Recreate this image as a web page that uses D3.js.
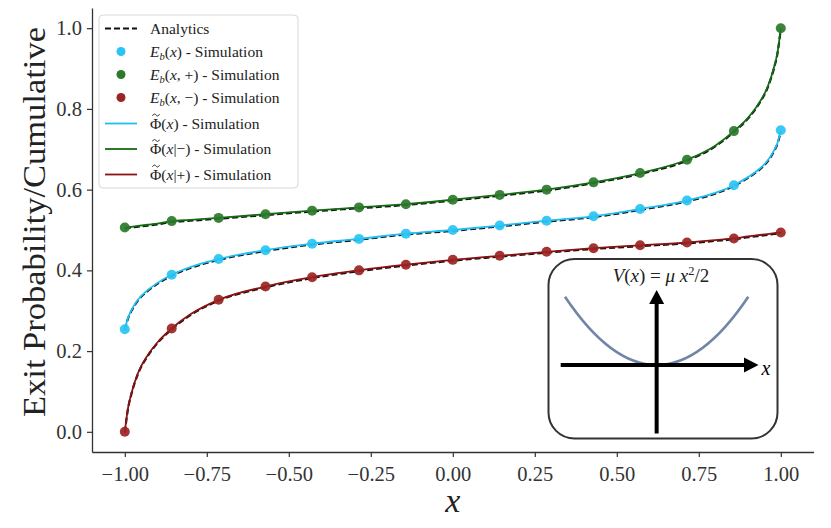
<!DOCTYPE html>
<html>
<head>
<meta charset="utf-8">
<script src="https://cdn.jsdelivr.net/npm/d3@7"></script>
<style>
  body { margin: 0; background: #fff; }
  svg { font-family: "Liberation Serif", "DejaVu Serif", serif; }
</style>
</head>
<body>
<div id="chart"></div>
<script>
// simulation points (15 equally spaced x)
const xSim = [-1, -0.857, -0.714, -0.571, -0.429, -0.286, -0.143, 0, 0.143, 0.286, 0.429, 0.571, 0.714, 0.857, 1];
const simBlue  = [0.254, 0.389, 0.428, 0.450, 0.466, 0.478, 0.491, 0.500, 0.511, 0.523, 0.534, 0.552, 0.573, 0.611, 0.747];
const simGreen = [0.506, 0.522, 0.530, 0.539, 0.548, 0.556, 0.564, 0.575, 0.587, 0.600, 0.618, 0.641, 0.674, 0.745, 1.0];
const simRed   = [0.0, 0.256, 0.327, 0.360, 0.383, 0.400, 0.414, 0.426, 0.436, 0.446, 0.455, 0.462, 0.469, 0.479, 0.494];

// curves (denser near the ends)
const xCurve = [-1, -0.99, -0.98, -0.96, -0.93, -0.9, -0.857, -0.8, -0.714, -0.571, -0.429, -0.286, -0.143, 0,
                0.143, 0.286, 0.429, 0.571, 0.714, 0.8, 0.857, 0.9, 0.93, 0.96, 0.98, 0.99, 1];
const curveBlue  = [0.254, 0.283, 0.301, 0.327, 0.351, 0.369, 0.389, 0.408, 0.428, 0.450, 0.466, 0.478, 0.491, 0.500,
                    0.511, 0.523, 0.534, 0.552, 0.573, 0.592, 0.611, 0.631, 0.648, 0.672, 0.698, 0.716, 0.747];
const curveGreen = [0.506, 0.507, 0.508, 0.510, 0.513, 0.516, 0.522, 0.525, 0.530, 0.539, 0.548, 0.556, 0.564, 0.575,
                    0.587, 0.600, 0.618, 0.641, 0.674, 0.709, 0.745, 0.778, 0.810, 0.855, 0.905, 0.940, 1.0];
const curveRed   = [0.0, 0.060, 0.095, 0.145, 0.190, 0.222, 0.256, 0.291, 0.327, 0.360, 0.383, 0.400, 0.414, 0.426,
                    0.436, 0.446, 0.455, 0.462, 0.469, 0.475, 0.479, 0.484, 0.487, 0.490, 0.492, 0.493, 0.494];

const xTicks = [-1, -0.75, -0.5, -0.25, 0, 0.25, 0.5, 0.75, 1];
const yTicks = [0, 0.2, 0.4, 0.6, 0.8, 1.0];

const W = 831, H = 528;
const svg = d3.select("#chart").append("svg").attr("width", W).attr("height", H);

const x = d3.scaleLinear().domain([-1.1, 1.1]).range([92, 813.6]);
const y = d3.scaleLinear().domain([-0.05, 1.05]).range([452, 8]);

const colBlue = "#29c4f4", colGreen = "#2b7a2b", colRed = "#9c2424";
const lineBlue = "#1fbff2", lineGreen = "#146b14", lineRed = "#8a1212";

// axes
const gx = svg.append("g").attr("transform", `translate(0,452)`)
  .call(d3.axisBottom(x).tickValues(xTicks).tickFormat(d3.format(".2f")).tickSize(5).tickSizeOuter(0));
const gy = svg.append("g").attr("transform", `translate(92,0)`)
  .call(d3.axisLeft(y).tickValues(yTicks).tickFormat(d3.format(".1f")).tickSize(5).tickSizeOuter(0));
[gx, gy].forEach(g => {
  g.select(".domain").attr("stroke", "#333").attr("stroke-width", 1.3);
  g.selectAll(".tick line").attr("stroke", "#333").attr("stroke-width", 1.2);
  g.selectAll(".tick text").attr("font-family", "Liberation Serif, serif").attr("font-size", 20.5).attr("fill", "#333");
});
gx.selectAll(".tick text").attr("dy", "1.0em");
gy.selectAll(".tick text").attr("dx", "-0.1em");

svg.append("text")
  .attr("transform", "translate(45,222) rotate(-90)")
  .attr("text-anchor", "middle")
  .attr("font-size", 31)
  .attr("fill", "#222")
  .attr("textLength", 390)
  .attr("lengthAdjust", "spacingAndGlyphs")
  .text("Exit Probability/Cumulative");

svg.append("text")
  .attr("x", x(0)).attr("y", 512)
  .attr("text-anchor", "middle")
  .attr("font-size", 34)
  .attr("font-style", "italic")
  .attr("fill", "#222")
  .text("x");

// curves
const line = d3.line().x(d => x(d[0])).y(d => y(d[1])).curve(d3.curveMonotoneX);
const curves = [
  { vals: curveGreen, col: lineGreen },
  { vals: curveBlue, col: lineBlue },
  { vals: curveRed, col: lineRed }
];
curves.forEach(c => {
  const pts = xCurve.map((v, i) => [v, c.vals[i]]);
  svg.append("path").attr("d", line(pts)).attr("fill", "none")
    .attr("stroke", "#111").attr("stroke-width", 2.2).attr("stroke-dasharray", "6 3")
    .attr("transform", "translate(0,0.8)");
  svg.append("path").attr("d", line(pts)).attr("fill", "none")
    .attr("stroke", c.col).attr("stroke-width", 1.8);
});

// simulation dots
const dots = [
  { vals: simBlue, col: colBlue },
  { vals: simGreen, col: colGreen },
  { vals: simRed, col: colRed }
];
dots.forEach(s => {
  svg.append("g").selectAll("circle")
    .data(xSim.map((v, i) => [v, s.vals[i]]))
    .join("circle")
    .attr("cx", d => x(d[0])).attr("cy", d => y(d[1]))
    .attr("r", 5).attr("fill", s.col).attr("fill-opacity", 0.92);
});

// legend
const lg = svg.append("g");
lg.append("rect").attr("x", 99).attr("y", 15).attr("width", 199).attr("height", 173)
  .attr("rx", 4).attr("fill", "#fff").attr("fill-opacity", 0.85)
  .attr("stroke", "#d8d8d8").attr("stroke-width", 1);

const legendRows = [
  { y: 28.5, kind: "dash", col: "#111", label: "analytics" },
  { y: 51.5, kind: "dot", col: colBlue, label: "Eb", arg: "" },
  { y: 74.5, kind: "dot", col: colGreen, label: "Eb", arg: ", +" },
  { y: 97.5, kind: "dot", col: colRed, label: "Eb", arg: ", −" },
  { y: 123.5, kind: "line", col: lineBlue, label: "Phi", arg: "" },
  { y: 149, kind: "line", col: lineGreen, label: "Phi", arg: "|−" },
  { y: 174.5, kind: "line", col: lineRed, label: "Phi", arg: "|+" }
];
const fs = 15.5;
legendRows.forEach(r => {
  if (r.kind === "dash") {
    lg.append("line").attr("x1", 105).attr("x2", 137).attr("y1", r.y).attr("y2", r.y)
      .attr("stroke", r.col).attr("stroke-width", 2).attr("stroke-dasharray", "6 3");
  } else if (r.kind === "dot") {
    lg.append("circle").attr("cx", 121).attr("cy", r.y).attr("r", 4.5).attr("fill", r.col);
  } else {
    lg.append("line").attr("x1", 105).attr("x2", 137).attr("y1", r.y).attr("y2", r.y)
      .attr("stroke", r.col).attr("stroke-width", 1.8);
  }
  const t = lg.append("text").attr("x", 150).attr("y", r.y + 5).attr("font-size", fs).attr("fill", "#222");
  if (r.label === "analytics") {
    t.text("Analytics");
  } else if (r.label === "Eb") {
    t.append("tspan").attr("font-style", "italic").text("E");
    t.append("tspan").attr("font-style", "italic").attr("font-size", 10.5).attr("dy", 3).text("b");
    t.append("tspan").attr("dy", -3).text("(");
    t.append("tspan").attr("font-style", "italic").text("x");
    t.append("tspan").text(r.arg + ") - Simulation");
  } else {
    t.append("tspan").text("\u03A6(");
    t.append("tspan").attr("font-style", "italic").text("x");
    t.append("tspan").text(r.arg + ") - Simulation");
    // tilde accent over Phi, drawn as a small path
    const ty = r.y - 8.5, tx = 156;
    const tp = d3.path();
    tp.moveTo(tx - 3.5, ty + 0.8);
    tp.bezierCurveTo(tx - 2.2, ty - 1.6, tx - 0.8, ty - 1.2, tx, ty);
    tp.bezierCurveTo(tx + 0.8, ty + 1.2, tx + 2.2, ty + 1.6, tx + 3.5, ty - 0.8);
    lg.append("path").attr("d", tp.toString()).attr("fill", "none")
      .attr("stroke", "#222").attr("stroke-width", 1);
  }
});

// inset: potential sketch
const inset = svg.append("g");
inset.append("rect").attr("x", 548.5).attr("y", 259).attr("width", 229).attr("height", 179.5)
  .attr("rx", 26).attr("fill", "#fff").attr("stroke", "#333").attr("stroke-width", 2);

const ix = d3.scaleLinear().domain([-1, 1]).range([565, 748.3]);
const iy = d3.scaleLinear().domain([0, 1]).range([365, 296.7]);
const p = d3.path();
p.moveTo(ix(-1), iy(1));
p.quadraticCurveTo(ix(0), iy(-1), ix(1), iy(1));
inset.append("path").attr("d", p.toString()).attr("fill", "none")
  .attr("stroke", "#6f86a6").attr("stroke-width", 2.6);

// axes arrows
inset.append("line").attr("x1", 560.7).attr("x2", 747).attr("y1", 365).attr("y2", 365)
  .attr("stroke", "#000").attr("stroke-width", 4);
inset.append("path").attr("d", "M758.5,365 L744,357.5 L744,372.5 Z").attr("fill", "#000");
inset.append("line").attr("x1", ix(0)).attr("x2", ix(0)).attr("y1", 433.5).attr("y2", 302)
  .attr("stroke", "#000").attr("stroke-width", 4);
inset.append("path").attr("d", `M${ix(0)},290 L${ix(0) - 7.5},304 L${ix(0) + 7.5},304 Z`).attr("fill", "#000");

inset.append("text").attr("x", 766).attr("y", 375).attr("font-size", 20)
  .attr("font-style", "italic").attr("text-anchor", "middle").text("x");

const vt = inset.append("text").attr("x", 661).attr("y", 282).attr("font-size", 19)
  .attr("text-anchor", "middle").attr("fill", "#222");
vt.append("tspan").attr("font-style", "italic").text("V");
vt.append("tspan").text("(");
vt.append("tspan").attr("font-style", "italic").text("x");
vt.append("tspan").text(") = ");
vt.append("tspan").attr("font-style", "italic").text("μ x");
vt.append("tspan").attr("font-size", 12.5).attr("dy", -7).text("2");
vt.append("tspan").attr("dy", 7).text("/2");
</script>
</body>
</html>
